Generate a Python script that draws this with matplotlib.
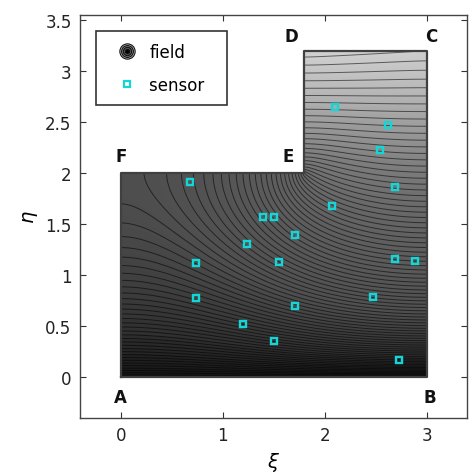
import numpy as np
import matplotlib
matplotlib.use('Agg')
import matplotlib.pyplot as plt
from matplotlib.lines import Line2D
from matplotlib.legend_handler import HandlerBase
from matplotlib.colors import LinearSegmentedColormap

# corners of the L-shaped domain
corner_names = ['A', 'B', 'C', 'D', 'E', 'F']
corner_xi = [0.0, 3.0, 3.0, 1.8, 1.8, 0.0]
corner_eta = [0.0, 0.0, 3.2, 3.2, 2.0, 2.0]

# sensor locations
sensor_xi = [0.68, 0.74, 0.74, 1.20, 1.50, 1.24, 1.40, 1.50, 1.71, 1.55,
             1.71, 2.07, 2.10, 2.62, 2.54, 2.69, 2.69, 2.89, 2.47, 2.73]
sensor_eta = [1.91, 1.12, 0.78, 0.52, 0.35, 1.31, 1.57, 1.57, 1.39, 1.13,
              0.70, 1.68, 2.65, 2.47, 2.23, 1.86, 1.16, 1.14, 0.79, 0.17]

xticks = [0, 1, 2, 3]
yticks = [0, 0.5, 1, 1.5, 2, 2.5, 3, 3.5]
ytick_labels = ['0', '0.5', '1', '1.5', '2', '2.5', '3', '3.5']

# boundary values of the field: 0 on AB, about 1 on DC (a bit higher near D)
u_bottom = 0.0
u_top_left = 1.03
u_top_right = 1.0

# gray shade against field value
shade_u = [0.0, 0.05, 0.1, 0.15, 0.25, 0.4, 0.55, 0.7, 0.85, 1.03]
shade_gray = [0.09, 0.19, 0.25, 0.31, 0.35, 0.40, 0.48, 0.60, 0.72, 0.82]

# contour lines: exponentially spaced levels, n_lines of them
n_lines = 80
level_growth = 2.76


def solve_field(h=0.02, omega=1.9, n_iter=2500):
    """Laplace equation on the L domain, red-black SOR, zero flux on side walls."""
    xs = np.linspace(0, 3, int(round(3 / h)) + 1)
    ys = np.linspace(0, 3.2, int(round(3.2 / h)) + 1)
    X, Y = np.meshgrid(xs, ys)
    eps = 1e-9
    inside = (Y <= 2 + eps) | (X >= 1.8 - eps)
    bottom = Y < eps
    top = (Y > 3.2 - eps) & inside
    fixed = bottom | top

    U = np.where(inside, Y / 3.2, 0.0)
    U[bottom] = u_bottom
    U[top] = u_top_left + (u_top_right - u_top_left) * (X[top] - 1.8) / 1.2

    m = inside.astype(float)
    M = np.pad(m, 1)
    cnt = M[:-2, 1:-1] + M[2:, 1:-1] + M[1:-1, :-2] + M[1:-1, 2:]
    I, J = np.indices(U.shape)
    free = inside & ~fixed
    red = free & ((I + J) % 2 == 0)
    black = free & ((I + J) % 2 == 1)

    for _ in range(n_iter):
        for sel in (red, black):
            P = np.pad(U * m, 1)
            s = P[:-2, 1:-1] + P[2:, 1:-1] + P[1:-1, :-2] + P[1:-1, 2:]
            avg = s / np.maximum(cnt, 1)
            U[sel] += omega * (avg[sel] - U[sel])

    return X, Y, np.ma.masked_where(~inside, U)


class HandlerRings(HandlerBase):
    """Legend key drawn as a set of concentric rings."""
    def create_artists(self, legend, orig_handle, xdescent, ydescent, width,
                       height, fontsize, trans):
        cx = 0.5 * width - xdescent
        cy = 0.5 * height - ydescent
        sizes = [11, 8.5, 6, 3]
        faces = ['#c8c8c8', '#8c8c8c', '#555555', '#000000']
        arts = []
        for s, fc in zip(sizes, faces):
            arts.append(Line2D([cx], [cy], marker='o', ms=s, mfc=fc, mec='#111111',
                               mew=0.8, linestyle='none', transform=trans))
        return arts


X, Y, U = solve_field()

umax = shade_u[-1]
cmap = LinearSegmentedColormap.from_list(
    'fieldgray', [(u / umax, (g, g, g)) for u, g in zip(shade_u, shade_gray)])

fig = plt.figure(figsize=(4.73, 4.77), dpi=100)
ax = fig.add_axes([0.169, 0.1216, 0.819, 0.845])

# smooth shading, then contour lines that crowd toward AB
ax.contourf(X, Y, U, levels=np.linspace(0, umax, 200), cmap=cmap, vmin=0, vmax=umax)
t = np.linspace(0, 1, n_lines + 1)[1:]
line_levels = np.expm1(level_growth * t) / np.expm1(level_growth)
ax.contour(X, Y, U, levels=line_levels, colors='k', linewidths=0.7, alpha=0.55)

# domain outline
ox = corner_xi + [corner_xi[0]]
oy = corner_eta + [corner_eta[0]]
ax.plot(ox, oy, color='#404040', lw=1.6, solid_joinstyle='round')

# sensors
ax.plot(sensor_xi, sensor_eta, 's', ms=4.5, mfc='none', mec='#14d6d6', mew=1.7,
        linestyle='none')

# corner labels
label_offsets = {'A': (0.0, -0.19), 'B': (0.03, -0.19), 'C': (0.05, 0.14),
                 'D': (-0.13, 0.14), 'E': (-0.16, 0.17), 'F': (0.0, 0.17)}
for name, cx, cy in zip(corner_names, corner_xi, corner_eta):
    dx, dy = label_offsets[name]
    ax.text(cx + dx, cy + dy, name, ha='center', va='center', fontsize=12,
            fontweight='bold', color='#111111')

ax.set_xlim(-0.4, 3.4)
ax.set_ylim(-0.4, 3.55)
ax.set_xticks(xticks)
ax.set_yticks(yticks)
ax.set_yticklabels(ytick_labels)
ax.tick_params(direction='in', top=True, right=True, labelsize=12, length=4,
               width=0.8, colors='#333333', labelcolor='#222222', pad=6)
for sp in ax.spines.values():
    sp.set_color('#444444')
    sp.set_linewidth(1.0)
ax.set_xlabel(r'$\xi$', fontsize=14, labelpad=4)
ax.set_ylabel(r'$\eta$', fontsize=14, labelpad=4)

# legend: concentric rings for the field, cyan square for sensors
field_handle = object()
sensor_handle = Line2D([], [], marker='s', ms=4, mfc='none', mec='#14d6d6', mew=1.6,
                       linestyle='none')
leg = ax.legend([field_handle, sensor_handle], ['field', 'sensor  '],
                handler_map={field_handle: HandlerRings()},
                loc='upper left', bbox_to_anchor=(0.041, 0.96), borderaxespad=0,
                fontsize=12, frameon=True, fancybox=False, edgecolor='#333333',
                framealpha=1, handlelength=2.4, handletextpad=0.1, borderpad=0.7,
                labelspacing=0.9)
leg.get_frame().set_linewidth(1.2)

fig.savefig('out.png', dpi=100)
